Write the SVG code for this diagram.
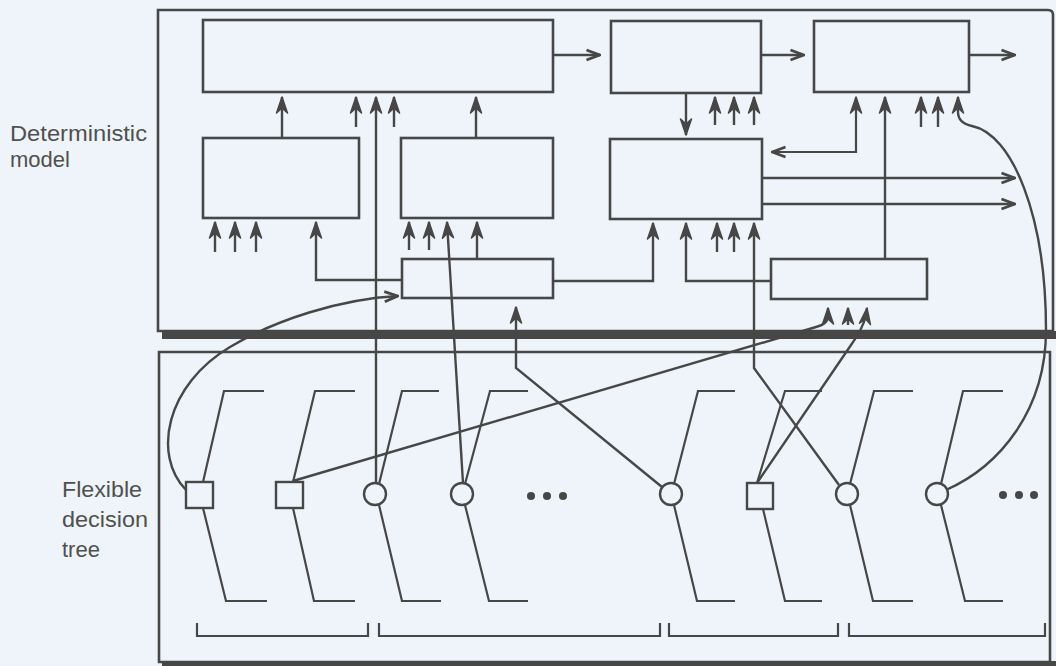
<svg xmlns="http://www.w3.org/2000/svg" width="1056" height="666" viewBox="0 0 1056 666">
<defs>
<style>
.bx{fill:none;stroke:#474747;stroke-width:2.6}
.fr{fill:none;stroke:#474747;stroke-width:2.6}
.ln{fill:none;stroke:#474747;stroke-width:2.2}
.up{fill:none;stroke:#474747;stroke-width:2.4;marker-end:url(#ah)}
.hz{fill:none;stroke:#474747;stroke-width:2.4;marker-end:url(#oh)}
.nd{fill:#eef4f9;stroke:#474747;stroke-width:2.4}
.lbl{font-family:"Liberation Sans",Arial,sans-serif;font-size:22px;fill:#505050}
.dot{fill:#474747}
</style>
<marker id="ah" viewBox="0 0 18 14" markerWidth="18" markerHeight="14" refX="17" refY="7" orient="auto-start-reverse" markerUnits="userSpaceOnUse">
<path d="M1,1.5 L17,7 L1,12.5 L6,7 Z" fill="#474747" stroke="#474747" stroke-width="1.5" stroke-linejoin="round"/>
</marker>
<marker id="oh" viewBox="0 0 16 14" markerWidth="16" markerHeight="14" refX="15" refY="7" orient="auto" markerUnits="userSpaceOnUse">
<path d="M1.5,2 L14.5,7 L1.5,12" fill="none" stroke="#474747" stroke-width="2.8" stroke-linejoin="miter"/>
</marker>
</defs>
<rect width="1056" height="666" fill="#eef4f9"/>

<g id="frame-deterministic">
<path class="fr" d="M158,331 L158,10 L1048,10 Q1053,10 1053,15 L1053,331 Z"/>
<rect x="162" y="331" width="894" height="8" fill="#474747"/>
</g>
<g id="frame-tree">
<path class="fr" d="M159,352 L1050,352 L1050,662 L159,662 Z"/>
<rect x="162" y="661" width="894" height="5" fill="#474747"/>
</g>

<g id="label-deterministic">
<text class="lbl" x="10" y="141" textLength="137" lengthAdjust="spacingAndGlyphs">Deterministic</text>
<text class="lbl" x="10" y="167">model</text>
</g>
<g id="label-tree">
<text class="lbl" x="62" y="497" textLength="80" lengthAdjust="spacingAndGlyphs">Flexible</text>
<text class="lbl" x="62" y="527" textLength="86" lengthAdjust="spacingAndGlyphs">decision</text>
<text class="lbl" x="62" y="557">tree</text>
</g>

<g id="box-a"><rect class="bx" x="203" y="20" width="350" height="72"/></g>
<g id="box-b"><rect class="bx" x="611" y="21" width="150" height="72"/></g>
<g id="box-c"><rect class="bx" x="814" y="21" width="155" height="71"/></g>
<g id="box-d"><rect class="bx" x="203" y="138" width="156" height="80"/></g>
<g id="box-e"><rect class="bx" x="401" y="138" width="152" height="80"/></g>
<g id="box-f"><rect class="bx" x="610" y="139" width="152" height="80"/></g>
<g id="box-g"><rect class="bx" x="402" y="259" width="151" height="39"/></g>
<g id="box-h"><rect class="bx" x="771" y="259" width="156" height="40"/></g>

<g id="connectors">
<path class="hz" d="M553,55 L600,55"/>
<path class="hz" d="M761,55 L804,55"/>
<path class="hz" d="M969,55 L1015,55"/>
<path class="hz" d="M762,178 L1015,178"/>
<path class="hz" d="M762,204 L1015,204"/>
<path class="up" d="M282,138 L282,97"/>
<path class="up" d="M356,127 L356,97"/>
<path class="up" d="M376,483 L376,97"/>
<path class="up" d="M394,127 L394,97"/>
<path class="up" d="M476,138 L476,97"/>
<path class="up" d="M686,93 L686,135"/>
<path class="up" d="M715,125 L715,97"/>
<path class="up" d="M734,125 L734,97"/>
<path class="up" d="M754,125 L754,97"/>
<path class="ln" d="M856,97 L856,152 L772,152" marker-start="url(#ah)" marker-end="url(#oh)"/>
<path class="up" d="M885,259 L885,97"/>
<path class="up" d="M921,127 L921,97"/>
<path class="up" d="M938,127 L938,97"/>
<path class="up" d="M946,490 C1000,466 1046,410 1046,330 C1046,215 1012,134 972,126 Q958,123 958,112 L958,97"/>
<path class="up" d="M215,252 L215,222"/>
<path class="up" d="M235,252 L235,222"/>
<path class="up" d="M256,252 L256,222"/>
<path class="up" d="M402,280 L316,280 L316,222"/>
<path class="up" d="M409,250 L409,222"/>
<path class="up" d="M429,250 L429,222"/>
<path class="up" d="M463,483 L447,222"/>
<path class="up" d="M477,259 L477,222"/>
<path class="up" d="M553,281 L653,281 L653,223"/>
<path class="up" d="M771,281 L686,281 L686,223"/>
<path class="up" d="M717,252 L717,223"/>
<path class="up" d="M734,252 L734,223"/>
<path class="up" d="M839,485 L754,368 L754,223"/>
<path class="hz" d="M186,490 C152,455 166,385 230,347 C275,320 340,299 398,296"/>
<path class="up" d="M662,487 L516,368 L516,307"/>
<path class="up" d="M293,481 L816,327 Q828,324 828,316 L828,308"/>
<path class="up" d="M848,325 L848,308"/>
<path class="up" d="M757,483 L851,345 Q862,330 866,316 L867,308"/>
</g>

<g id="tree-branches">
<path class="ln" d="M203,482 L224,391 L264,391 M203,508 L226,601 L267,601"/>
<path class="ln" d="M293,482 L315,391 L355,391 M293,508 L314,601 L355,601"/>
<path class="ln" d="M379,484 L402,391 L439,391 M379,505 L402,601 L441,601"/>
<path class="ln" d="M465,484 L490,391 L528,391 M465,505 L489,601 L528,601"/>
<path class="ln" d="M674,484 L698,391 L735,391 M674,505 L697,601 L735,601"/>
<path class="ln" d="M757,483 L785,391 L822,391 M763,509 L785,601 L822,601"/>
<path class="ln" d="M850,484 L874,391 L913,391 M850,505 L873,601 L913,601"/>
<path class="ln" d="M941,484 L963,391 L1003,391 M941,505 L965,601 L1003,601"/>
</g>

<g id="node-1"><rect class="nd" x="186" y="482" width="27" height="26"/></g>
<g id="node-2"><rect class="nd" x="276" y="482" width="27" height="26"/></g>
<g id="node-3"><circle class="nd" cx="375" cy="494" r="11"/></g>
<g id="node-4"><circle class="nd" cx="462" cy="494" r="11"/></g>
<g id="dots-1"><circle class="dot" cx="531" cy="496" r="4"/><circle class="dot" cx="547" cy="496" r="4"/><circle class="dot" cx="563" cy="496" r="4"/></g>
<g id="node-5"><circle class="nd" cx="671" cy="494" r="11"/></g>
<g id="node-6"><rect class="nd" x="747" y="483" width="26" height="26"/></g>
<g id="node-7"><circle class="nd" cx="847" cy="494" r="11"/></g>
<g id="node-8"><circle class="nd" cx="937" cy="494" r="11"/></g>
<g id="dots-2"><circle class="dot" cx="1003" cy="495" r="4"/><circle class="dot" cx="1019" cy="495" r="4"/><circle class="dot" cx="1034" cy="495" r="4"/></g>

<g id="groupings">
<path class="ln" d="M197,623 L197,636 L368,636 L368,623"/>
<path class="ln" d="M379,623 L379,636 L660,636 L660,623"/>
<path class="ln" d="M669,623 L669,636 L838,636 L838,623"/>
<path class="ln" d="M849,623 L849,636 L1045,636 L1045,623"/>
</g>
</svg>
